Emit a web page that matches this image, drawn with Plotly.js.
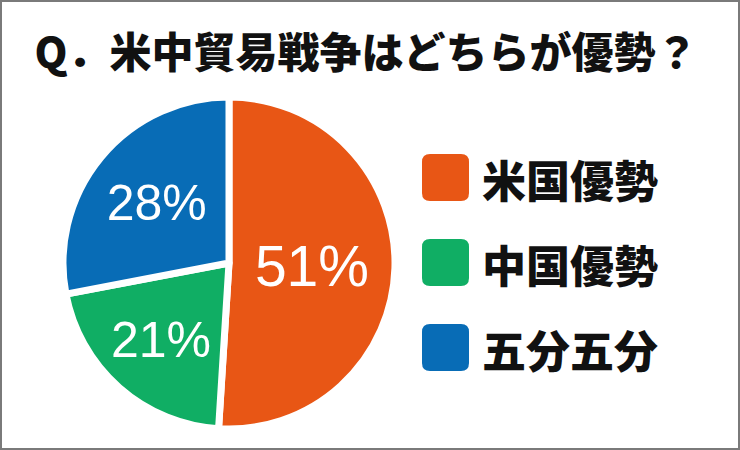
<!DOCTYPE html>
<html>
<head>
<meta charset="utf-8">
<script src="https://cdn.plot.ly/plotly-3.0.1.min.js"></script>
<style>
html,body{margin:0;padding:0;background:#fff;}
#wrap{width:740px;height:450px;box-sizing:border-box;border:2px solid #7a7a7a;position:relative;overflow:hidden;}
#chart{position:absolute;left:-2px;top:-2px;width:740px;height:450px;}
</style>
</head>
<body>
<div id="wrap"><div id="chart"></div></div>
<script>
const titleText = 'Q．米中貿易戦争はどちらが優勢？';
const categories = ['米国優勢', '中国優勢', '五分五分'];
const values = [51, 21, 28];
const colors = ['#E85615', '#10AE64', '#086CB6'];
const labelSizes = [57, 50, 50];

const W = 740, H = 450;
const px = x => x / W;
const py = y => 1 - y / H;

// custom legend built from categories/colors
const shapes = [];
const annotations = [];
const sq = 47, r = 8, lx = 422, ly0 = 154, step = 85;
categories.forEach((c, i) => {
  const x0 = lx, x1 = lx + sq, y0 = ly0 + i * step, y1 = y0 + sq;
  const path = `M ${px(x0 + r)} ${py(y0)} L ${px(x1 - r)} ${py(y0)} Q ${px(x1)} ${py(y0)} ${px(x1)} ${py(y0 + r)} ` +
    `L ${px(x1)} ${py(y1 - r)} Q ${px(x1)} ${py(y1)} ${px(x1 - r)} ${py(y1)} ` +
    `L ${px(x0 + r)} ${py(y1)} Q ${px(x0)} ${py(y1)} ${px(x0)} ${py(y1 - r)} ` +
    `L ${px(x0)} ${py(y0 + r)} Q ${px(x0)} ${py(y0)} ${px(x0 + r)} ${py(y0)} Z`;
  shapes.push({type: 'path', xref: 'paper', yref: 'paper', path: path,
    fillcolor: colors[i], line: {width: 0}});
  annotations.push({xref: 'paper', yref: 'paper', x: px(480), y: py(y0 + sq / 2 + 1),
    xanchor: 'left', yanchor: 'middle', text: c, showarrow: false,
    font: {family: 'Noto Sans CJK JP', size: 44, weight: 900, color: '#111'}});
});

const data = [{
  type: 'pie',
  labels: categories,
  values: values,
  sort: false,
  direction: 'clockwise',
  rotation: 0,
  marker: {colors: colors, line: {color: '#ffffff', width: 7}},
  texttemplate: '%{value}%',
  textposition: 'inside',
  insidetextorientation: 'horizontal',
  textfont: {family: 'Liberation Sans, Arial, sans-serif', color: '#ffffff', size: labelSizes},
  hoverinfo: 'none',
  domain: {x: [px(63), px(395)], y: [py(429), py(97)]},
  showlegend: false
}];

const layout = {
  width: W, height: H,
  margin: {l: 0, r: 0, t: 0, b: 0},
  paper_bgcolor: 'rgba(0,0,0,0)',
  plot_bgcolor: 'rgba(0,0,0,0)',
  showlegend: false,
  title: {text: titleText, x: px(366), xanchor: 'center', y: py(53), yanchor: 'middle',
    font: {family: 'Noto Sans CJK JP', size: 42, weight: 900, color: '#111'}},
  shapes: shapes,
  annotations: annotations
};

Plotly.newPlot('chart', data, layout, {staticPlot: true, displayModeBar: false});
</script>
</body>
</html>
